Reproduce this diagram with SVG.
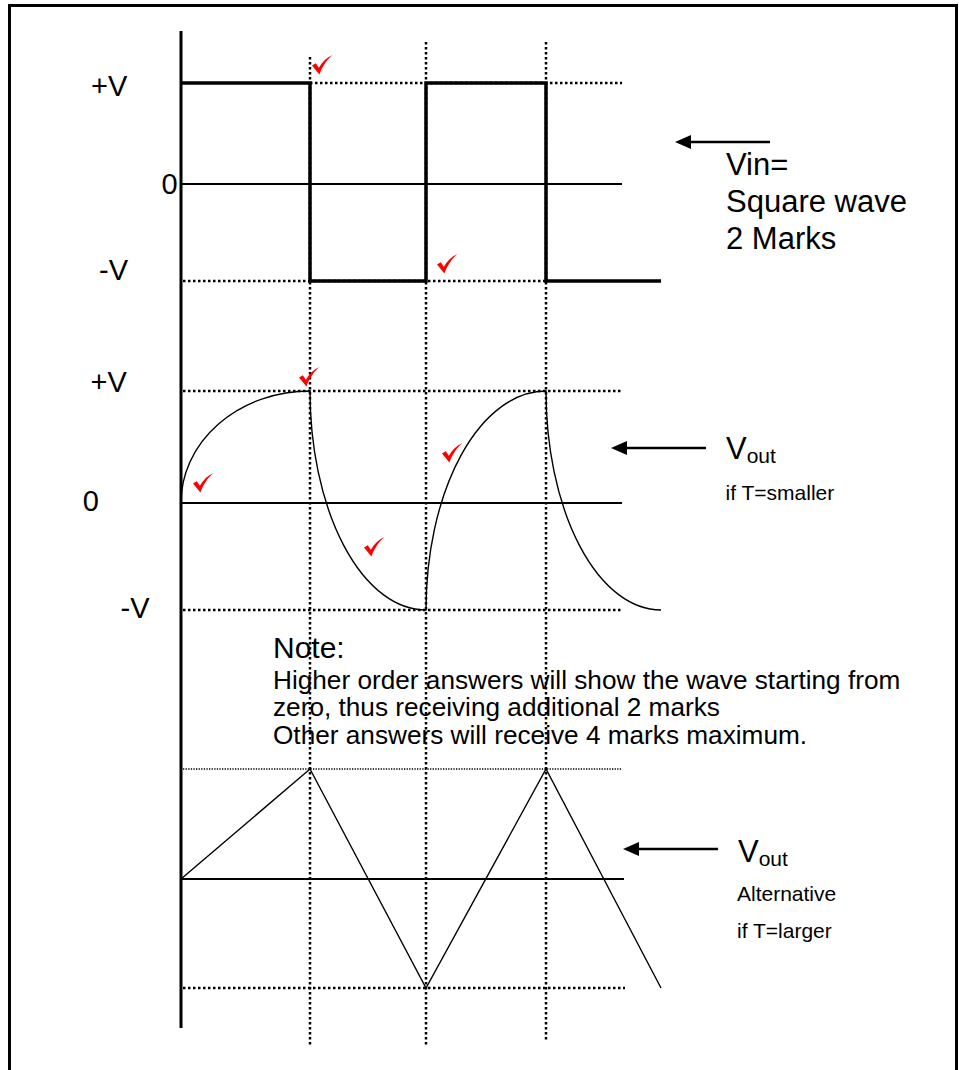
<svg xmlns="http://www.w3.org/2000/svg" width="959" height="1070" viewBox="0 0 959 1070">
<style>
  .bg{fill:#fff}
  .frame{fill:none;stroke:#000;stroke-width:3}
  .axis{stroke:#000;stroke-width:3;fill:none}
  .dot{stroke:#000;stroke-width:2.5;stroke-dasharray:2.5 2.5;fill:none}
  .fine{stroke:#000;stroke-width:1.5;stroke-dasharray:1.3 1.3;fill:none}
  .zero{stroke:#000;stroke-width:2.2;fill:none}
  .sq{stroke:#000;stroke-width:3.5;fill:none;stroke-linejoin:miter}
  .wave{stroke:#000;stroke-width:1.4;fill:none}
  .arr{stroke:#000;stroke-width:2.5;fill:none}
  .t{font-family:"Liberation Sans",Arial,sans-serif;fill:#000}
  .chk{fill:#ff0000}
</style>
<defs>
  <marker id="ah" viewBox="0 0 16 14" refX="0" refY="7" markerWidth="16" markerHeight="14" markerUnits="userSpaceOnUse" orient="auto">
    <path d="M16,7 L0,0 L0,14 Z" fill="#000"/>
  </marker>
  <path id="check" d="M0,10.5 L3.8,8.2 L6.9,12.8 C10,7.2 14.5,2.6 20.5,0 C15,4.6 10.8,10.6 7.4,19.5 Z"/>
</defs>
<rect class="bg" x="0" y="0" width="959" height="1070"/>
<rect class="frame" x="9.5" y="5.5" width="947" height="1080"/>

<g id="grid">
  <line class="dot" x1="310" y1="57" x2="310" y2="1046"/>
  <line class="dot" x1="426" y1="42" x2="426" y2="1046"/>
  <line class="dot" x1="546" y1="42" x2="546" y2="1041"/>
</g>

<g id="axis">
  <line class="axis" x1="181" y1="31" x2="181" y2="1028"/>
</g>

<g id="graph-vin">
  <line class="dot" x1="310" y1="83" x2="622" y2="83"/>
  <line class="dot" x1="183" y1="281" x2="546" y2="281"/>
  <line class="zero" x1="181" y1="184" x2="622" y2="184"/>
  <path class="sq" d="M181,83 H310 V281 H426 V83 H546 V281 H661"/>
  <text class="t" x="91" y="96" font-size="29">+V</text>
  <text class="t" x="161.5" y="193.5" font-size="29">0</text>
  <text class="t" x="99" y="280" font-size="29">-V</text>
</g>

<g id="graph-vout-smaller">
  <line class="dot" x1="183" y1="391" x2="622" y2="391"/>
  <line class="dot" x1="183" y1="610" x2="622" y2="610"/>
  <line class="zero" x1="181" y1="503" x2="622" y2="503"/>
  <path class="wave" d="M181,503 A129,112 0 0 1 310,391 A116,219 0 0 0 426,610 A120,219 0 0 1 546,391 A115,219 0 0 0 661,610"/>
  <text class="t" x="90.5" y="392" font-size="29">+V</text>
  <text class="t" x="82.8" y="511" font-size="29">0</text>
  <text class="t" x="120.5" y="618" font-size="29">-V</text>
</g>

<g id="graph-vout-larger">
  <line class="fine" x1="183" y1="769" x2="622" y2="769"/>
  <line class="dot" x1="183" y1="988" x2="625" y2="988"/>
  <line class="zero" x1="181" y1="879" x2="624" y2="879"/>
  <path class="wave" d="M181,879 L310,769 L426,988 L546,769 L661,988"/>
</g>

<g id="checkmarks">
  <use href="#check" class="chk" x="312" y="55"/>
  <use href="#check" class="chk" x="437" y="254"/>
  <use href="#check" class="chk" x="299" y="367"/>
  <use href="#check" class="chk" x="193" y="473"/>
  <use href="#check" class="chk" x="364" y="537"/>
  <use href="#check" class="chk" x="442" y="443"/>
</g>

<g id="connectors">
  <line class="arr" x1="770" y1="142" x2="691" y2="142" marker-end="url(#ah)"/>
  <line class="arr" x1="706" y1="448" x2="627" y2="448" marker-end="url(#ah)"/>
  <line class="arr" x1="718" y1="849" x2="639" y2="849" marker-end="url(#ah)"/>
</g>

<g id="label-vin">
  <text class="t" font-size="31"><tspan x="726" y="175">Vin=</tspan><tspan x="726" y="212">Square wave</tspan><tspan x="726" y="249">2 Marks</tspan></text>
</g>

<g id="label-vout-smaller">
  <text class="t" x="726" y="459" font-size="31">V<tspan font-size="21" dy="4">out</tspan></text>
  <text class="t" x="725.5" y="500" font-size="21">if T=smaller</text>
</g>

<g id="label-vout-larger">
  <text class="t" x="738" y="862" font-size="31">V<tspan font-size="21" dy="3.5">out</tspan></text>
  <text class="t" x="737" y="901" font-size="21">Alternative</text>
  <text class="t" x="737" y="937.5" font-size="21">if T=larger</text>
</g>

<g id="note">
  <text class="t" x="273" y="658" font-size="30">Note:</text>
  <text class="t" x="273" y="689" font-size="26.2">Higher order answers will show the wave starting from</text>
  <text class="t" x="273" y="716" font-size="26.2">zero, thus receiving additional 2 marks</text>
  <text class="t" x="273" y="744" font-size="26.2">Other answers will receive 4 marks maximum.</text>
</g>
</svg>
